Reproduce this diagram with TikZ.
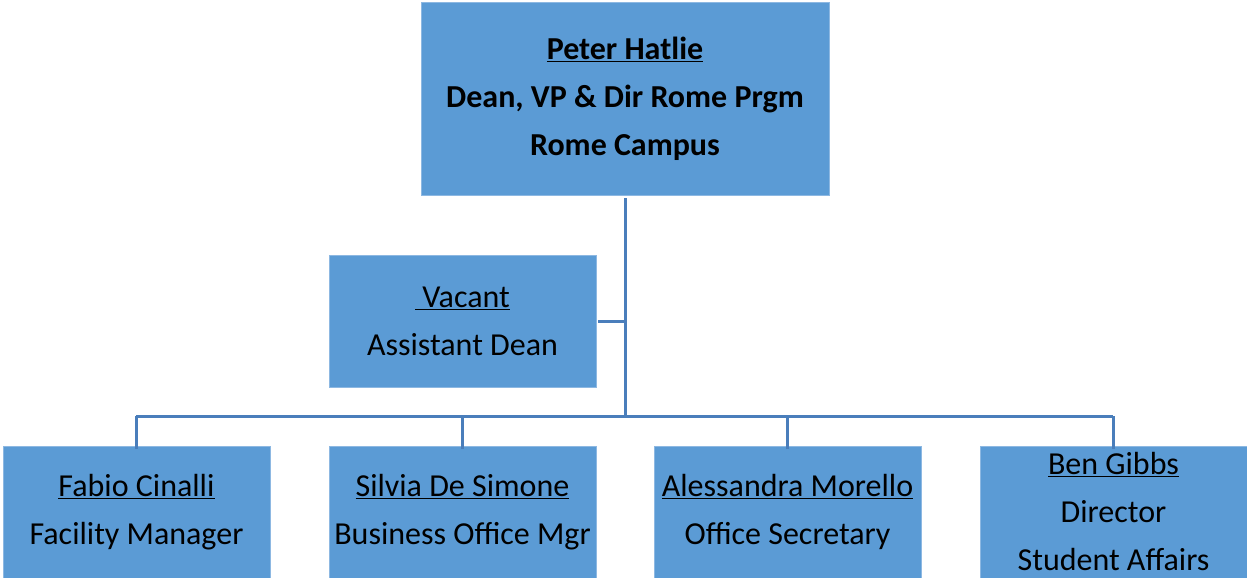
\documentclass[tikz,border=0pt]{standalone}
\usepackage{fontspec}
\setmainfont{Carlito}
\definecolor{boxfill}{HTML}{5B9BD5}
\definecolor{boxedge}{HTML}{8DB8E2}
\definecolor{linec}{HTML}{4A7EBB}
\tikzset{
  orgbox/.style={fill=boxfill, draw=boxedge, line width=0.8pt, inner sep=0pt,
    minimum width=267pt, minimum height=132pt, align=center, text=black,
    font=\fontsize{32}{48}\selectfont},
  topbox/.style={orgbox, minimum width=408pt, minimum height=193pt,
    font=\fontsize{32}{48}\selectfont\bfseries},
  conn/.style={draw=linec, line width=3pt}
}
\begin{document}
\begin{tikzpicture}[x=1pt,y=-1pt]
\useasboundingbox (0,0) rectangle (1247,578);
\node[topbox] (dean) at (625,98.5) {\underline{Peter Hatlie}\\Dean, VP \& Dir Rome Prgm\\Rome Campus};
\node[orgbox] (vac) at (462.5,321) {\underline{\ Vacant}\\Assistant Dean};
\node[orgbox] (fab) at (136.5,512) {\underline{Fabio Cinalli}\\Facility Manager};
\node[orgbox] (sil) at (462.5,512) {\underline{Silvia De Simone}\\Business Office Mgr};
\node[orgbox] (ale) at (787.5,512) {\underline{Alessandra Morello}\\Office Secretary};
\node[orgbox] (ben) at (1113.5,512) {\underline{Ben Gibbs}\\Director\\Student Affairs};
\coordinate (tv) at (625,321);
\coordinate (tb) at (625,416);
\coordinate (bl) at (136,416);
\coordinate (br) at (1113,416);
\draw[conn] ([yshift=-3pt]dean.south) -- (tb);
\draw[conn] ([xshift=2pt]vac.east) -- (tv);
\draw[conn] (bl |- tb) -- (br |- tb);
\draw[conn] (fab.north |- tb) -- ([yshift=-3pt]fab.north);
\draw[conn] (sil.north |- tb) -- ([yshift=-3pt]sil.north);
\draw[conn] (ale.north |- tb) -- ([yshift=-3pt]ale.north);
\draw[conn] (ben.north |- tb) -- ([yshift=-3pt]ben.north);
\end{tikzpicture}
\end{document}
